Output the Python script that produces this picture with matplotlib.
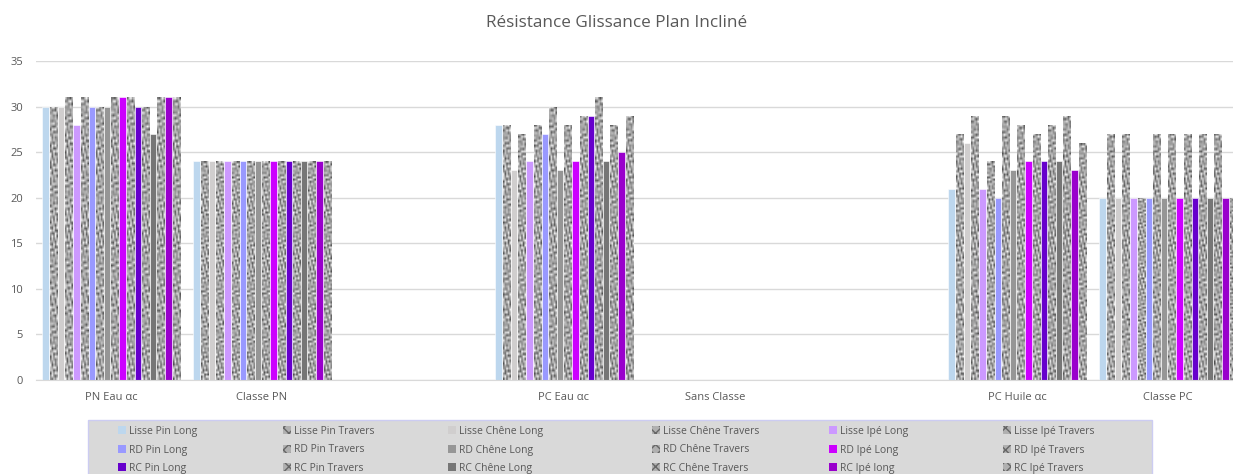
import numpy as np
import matplotlib
matplotlib.use('Agg')
import matplotlib.pyplot as plt
from matplotlib.patches import Patch, Rectangle

plt.rcParams['font.family'] = ['Open Sans', 'DejaVu Sans']

categories = ['PN Eau αc', 'Classe PN', '', 'PC Eau αc', 'Sans Classe', '', 'PC Huile αc', 'Classe PC']

series = ['Lisse Pin Long', 'Lisse Pin Travers', 'Lisse Chêne Long', 'Lisse Chêne Travers',
          'Lisse Ipé Long', 'Lisse Ipé Travers',
          'RD Pin Long', 'RD Pin Travers', 'RD Chêne Long', 'RD Chêne Travers',
          'RD Ipé Long', 'RD Ipé Travers',
          'RC Pin Long', 'RC Pin Travers', 'RC Chêne Long', 'RC Chêne Travers',
          'RC Ipé long', 'RC Ipé Travers']

# values per category, in series order (nan = no bar)
pn_eau = [30, 30, 30, 31, 28, 31, 30, 30, 30, 31, 31, 31, 30, 30, 27, 31, 31, 31]
classe_pn = [24] * 18
pc_eau = [28, 28, 23, 27, 24, 28, 27, 30, 23, 28, 24, 29, 29, 31, 24, 28, 25, 29]
sans_classe = [np.nan] * 18
pc_huile = [21, 27, 26, 29, 21, 24, 20, 29, 23, 28, 24, 27, 24, 28, 24, 29, 23, 26]
classe_pc = [20, 27, 20, 27, 20, 20, 20, 27, 20, 27, 20, 27, 20, 27, 20, 27, 20, 20]
empty = [np.nan] * 18

table = np.array([pn_eau, classe_pn, empty, pc_eau, sans_classe, empty, pc_huile, classe_pc])

colors = ['#bdd7ee', None, '#d0cece', None, '#cc99ff', None,
          '#9999ff', None, '#969696', None, '#cc00ff', None,
          '#6600cc', None, '#767676', None, '#9900cc', None]

# granite-like texture for the "Travers" series (pattern, not data)
yy, xx = np.mgrid[0:100, 0:5]

def granite(k):
    t = (0.64 + 0.24 * np.sin(yy * 1.7 + xx * 2.3 + k) * np.cos(yy * 0.55 - xx * 1.3 + 2 * k)
         + 0.16 * np.sin(yy * 3.1 + xx * 0.9 + 3 * k) - 0.12 * np.cos(yy * 0.9 + xx * 3.7 - k)
         + 0.08 * np.sin(yy * 5.3 - xx * 2.9 + k))
    return np.clip(t, 0.32, 0.95)

fig = plt.figure(figsize=(12.33, 4.74), dpi=100)
ax = fig.add_axes([35.5 / 1233, 94 / 474, 1208 / 1233, 319 / 474])

x = np.arange(len(categories))
slot = 0.0508
handles = []
k = 0
for i, name in enumerate(series):
    pos = x - 9 * slot + slot * (i + 0.5)
    vals = table[:, i]
    if colors[i] is not None:
        ax.bar(pos, vals, slot * 0.86, color=colors[i], edgecolor='white', linewidth=0.4, zorder=2)
        handles.append(Patch(facecolor=colors[i], edgecolor='none'))
    else:
        bars = ax.bar(pos, vals, slot * 0.92, color='#a8a8a8', edgecolor='white', linewidth=0.4, zorder=2)
        for b, v in zip(bars, vals):
            if np.isnan(v):
                continue
            x0 = b.get_x()
            im = ax.imshow(granite(k), cmap='gray', vmin=0, vmax=1, aspect='auto',
                           extent=[x0, x0 + b.get_width(), 0, v], zorder=2.5,
                           interpolation='bilinear')
            im.set_clip_path(b)
            k += 1
        handles.append(Patch(facecolor='#b0b0b0', edgecolor='#666666', hatch='xxx', linewidth=0))

ax.set_xlim(-0.5, len(categories) - 0.5)
ax.set_ylim(0, 35)
ax.set_yticks(range(0, 36, 5))
ax.set_xticks(x)
ax.set_xticklabels(categories)
ax.tick_params(length=0, labelsize=8, colors='#595959')
ax.tick_params(axis='x', pad=9)
ax.tick_params(axis='y', pad=9)
ax.grid(axis='y', color='#d9d9d9', linewidth=1, zorder=0)
ax.set_axisbelow(True)
for s in ['top', 'right', 'left']:
    ax.spines[s].set_visible(False)
ax.spines['bottom'].set_color('#d9d9d9')

fig.text(617 / 1233, 1 - 23 / 474, 'Résistance Glissance Plan Incliné', ha='center', va='center',
         fontsize=12.3, color='#595959')

# legend background, cut by the bottom of the picture like the reference
fig.patches.append(Rectangle((88 / 1233, -0.05), 1064 / 1233, 0.05 + 54 / 474,
                             transform=fig.transFigure, facecolor='#d9d9d9',
                             edgecolor='#ccccf2', linewidth=1, zorder=0))

# one legend per column, filled row by row as in the reference
col_x = [117.5, 283, 448, 651.5, 829, 1002.5]
for c in range(6):
    idx = [r * 6 + c for r in range(3)]
    leg = fig.legend([handles[j] for j in idx], [series[j] for j in idx], ncol=1,
                     loc='upper left', bbox_to_anchor=(col_x[c] / 1233, 1 - 426 / 474),
                     fontsize=7.5, frameon=False, handlelength=0.8, handleheight=0.8,
                     handletextpad=0.3, labelspacing=0.72, borderpad=0, borderaxespad=0)
    for t in leg.get_texts():
        t.set_color('#595959')

fig.savefig('out.png', dpi=100)
